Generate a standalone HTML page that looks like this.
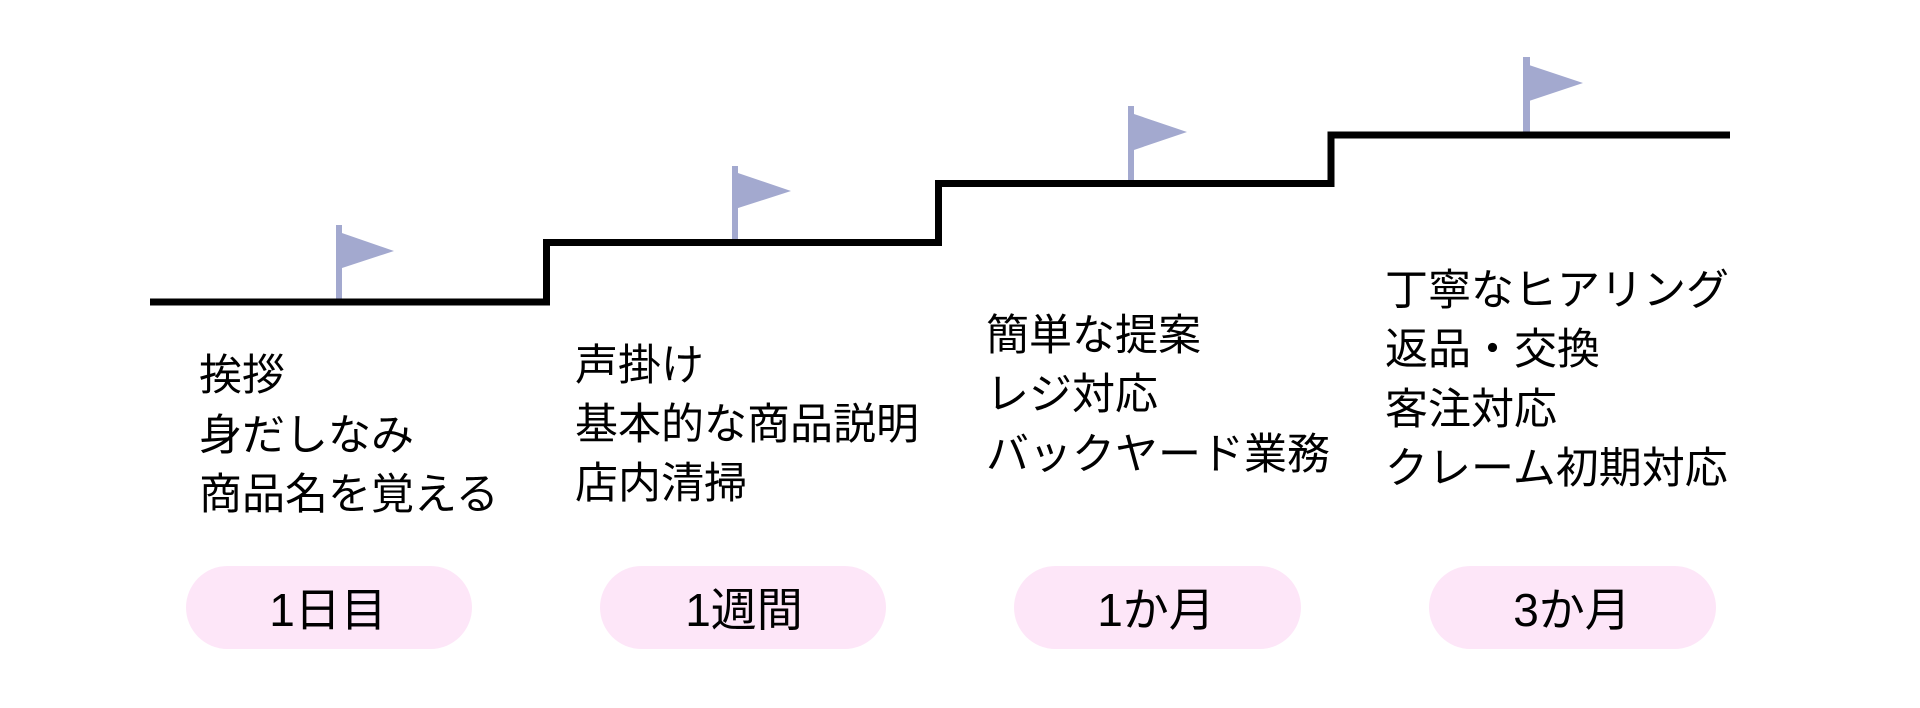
<!DOCTYPE html>
<html>
<head>
<meta charset="utf-8">
<style>
  html, body { margin: 0; padding: 0; background: #ffffff; }
  body { width: 1920px; height: 708px; overflow: hidden; }
  svg { display: block; }
  .t { font-family: "Liberation Sans", "Noto Sans CJK JP", sans-serif; font-size: 43px; fill: #000; }
  .p { font-family: "Liberation Sans", "Noto Sans CJK JP", sans-serif; font-size: 46px; fill: #000; }
</style>
</head>
<body>
<svg width="1920" height="708" viewBox="0 0 1920 708" xmlns="http://www.w3.org/2000/svg">
  <!-- flags -->
  <g fill="#a3a9cf">
    <rect x="336" y="225" width="6" height="76"/>
    <polygon points="339,232 394,251 339,269"/>
    <rect x="732" y="166" width="6" height="76"/>
    <polygon points="735,172 791,191 735,209"/>
    <rect x="1128" y="106" width="6" height="77"/>
    <polygon points="1131,113 1187,132 1131,151"/>
    <rect x="1523" y="57" width="7" height="77"/>
    <polygon points="1526,64 1583,83 1526,102"/>
  </g>

  <!-- steps -->
  <polyline points="150,302 546.5,302 546.5,242.5 938.5,242.5 938.5,183.5 1331,183.5 1331,135 1730,135"
            fill="none" stroke="#000" stroke-width="7" stroke-linejoin="miter" stroke-linecap="butt"/>

  <!-- text blocks -->
  <text class="t" x="199" y="390">挨拶</text>
  <text class="t" x="199" y="450">身だしなみ</text>
  <text class="t" x="199" y="509">商品名を覚える</text>

  <text class="t" x="575" y="380">声掛け</text>
  <text class="t" x="575" y="439">基本的な商品説明</text>
  <text class="t" x="575" y="498">店内清掃</text>

  <text class="t" x="986" y="350">簡単な提案</text>
  <text class="t" x="986" y="409">レジ対応</text>
  <text class="t" x="986" y="469">バックヤード業務</text>

  <text class="t" x="1385" y="305">丁寧なヒアリング</text>
  <text class="t" x="1385" y="364">返品・交換</text>
  <text class="t" x="1385" y="424">客注対応</text>
  <text class="t" x="1385" y="483">クレーム初期対応</text>

  <!-- pills -->
  <g fill="#fde6f8">
    <rect x="186" y="566" width="286" height="83" rx="41.5" ry="41.5"/>
    <rect x="600" y="566" width="286" height="83" rx="41.5" ry="41.5"/>
    <rect x="1014" y="566" width="287" height="83" rx="41.5" ry="41.5"/>
    <rect x="1429" y="566" width="287" height="83" rx="41.5" ry="41.5"/>
  </g>
  <text class="p" x="328" y="626" text-anchor="middle">1日目</text>
  <text class="p" x="744" y="626" text-anchor="middle">1週間</text>
  <text class="p" x="1156" y="626" text-anchor="middle">1か月</text>
  <text class="p" x="1572" y="626" text-anchor="middle">3か月</text>
</svg>
</body>
</html>
